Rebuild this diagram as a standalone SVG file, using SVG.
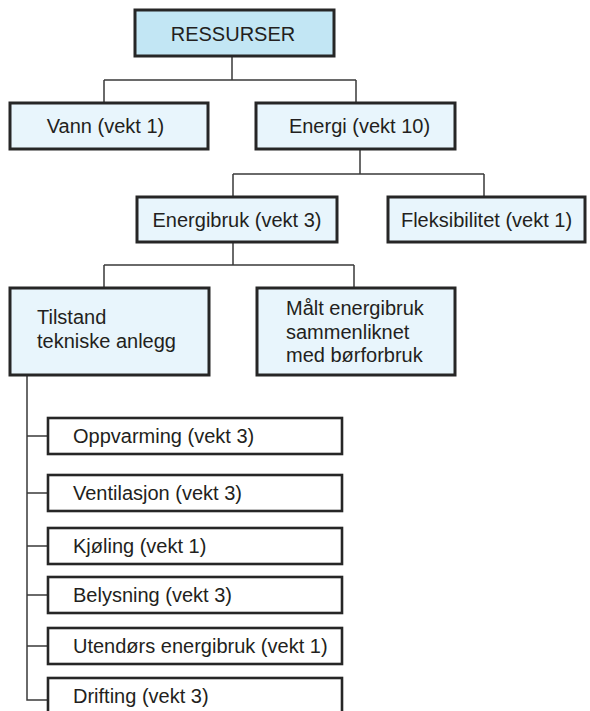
<svg xmlns="http://www.w3.org/2000/svg" width="590" height="711" viewBox="0 0 590 711">
<style>
.box{fill:#e8f5fc;stroke:#262626;stroke-width:3}
.root{fill:#c2e6f4}
.child{fill:#ffffff;stroke-width:2.6}
.t{font-family:"Liberation Sans",Arial,sans-serif;font-size:20px;fill:#231f20}
.c{text-anchor:middle}
.conn{fill:none;stroke:#3a3a3a;stroke-width:1.5}
</style>
<rect width="590" height="711" fill="#ffffff"/>
<g id="connectors" class="conn">
<path d="M232 56V80M104 80H356M104 80V103M356 80V103"/>
<path d="M360 149V174M233 174H484M233 174V197M484 174V197"/>
<path d="M233 242V265M104 265H354M104 265V288M354 265V288"/>
<path d="M27 375V700H48M27 436H48M27 493H48M27 546H48M27 595H48M27 646H48"/>
</g>
<g id="ressurser"><rect class="box root" x="135" y="10" width="199" height="46"/><text class="t c" x="233" y="40.5">RESSURSER</text></g>
<g id="vann"><rect class="box" x="10" y="103" width="198" height="46"/><text class="t c" x="105.5" y="132.5">Vann (vekt 1)</text></g>
<g id="energi"><rect class="box" x="256" y="103" width="199" height="46"/><text class="t c" x="359.5" y="132.5">Energi (vekt 10)</text></g>
<g id="energibruk"><rect class="box" x="137" y="197" width="200" height="45"/><text class="t c" x="237" y="227">Energibruk (vekt 3)</text></g>
<g id="fleksibilitet"><rect class="box" x="388" y="197" width="197" height="45"/><text class="t c" x="486.5" y="227">Fleksibilitet (vekt 1)</text></g>
<g id="tilstand"><rect class="box" x="10" y="288" width="199" height="87"/><text class="t" x="37" y="324">Tilstand</text><text class="t" x="37" y="348">tekniske anlegg</text></g>
<g id="maalt"><rect class="box" x="257" y="288" width="198" height="87"/><text class="t" x="286" y="315">Målt energibruk</text><text class="t" x="286" y="338.5">sammenliknet</text><text class="t" x="286" y="362">med børforbruk</text></g>
<g id="oppvarming"><rect class="box child" x="48" y="418" width="294" height="36"/><text class="t" x="73" y="443">Oppvarming (vekt 3)</text></g>
<g id="ventilasjon"><rect class="box child" x="48" y="475" width="294" height="36"/><text class="t" x="73" y="500">Ventilasjon (vekt 3)</text></g>
<g id="kjoling"><rect class="box child" x="48" y="528" width="294" height="36"/><text class="t" x="73" y="553">Kjøling (vekt 1)</text></g>
<g id="belysning"><rect class="box child" x="48" y="577" width="294" height="36"/><text class="t" x="73" y="602">Belysning (vekt 3)</text></g>
<g id="utendors"><rect class="box child" x="48" y="628" width="294" height="36"/><text class="t" x="73" y="653">Utendørs energibruk (vekt 1)</text></g>
<g id="drifting"><rect class="box child" x="48" y="678" width="294" height="40"/><text class="t" x="73" y="703">Drifting (vekt 3)</text></g>
</svg>
